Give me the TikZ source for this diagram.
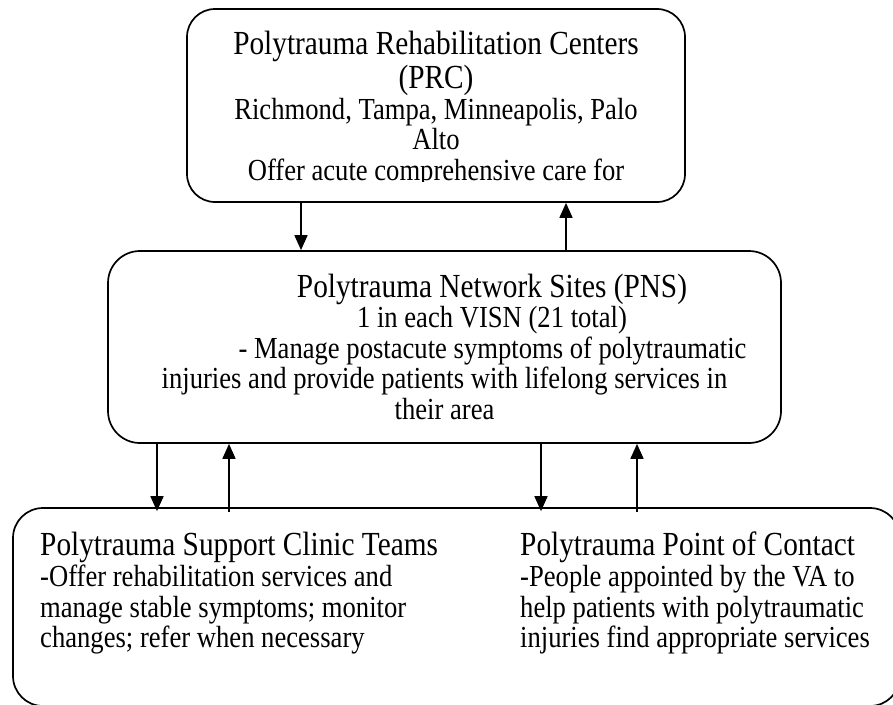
\documentclass[tikz,border=0pt]{standalone}
\usepackage{fontspec}
\setmainfont[FakeStretch=0.87]{Liberation Serif}
\usetikzlibrary{arrows.meta}
\newcommand\ttlf{\fontsize{33.7}{38}\selectfont}
\newcommand\bdf{\fontsize{30.6}{34}\selectfont}
\tikzset{
  box/.style={draw, line width=1.7pt, rounded corners=#1, inner sep=0pt},
  ttl/.style={anchor=base, inner sep=0pt, font=\ttlf},
  bdy/.style={anchor=base, inner sep=0pt, font=\bdf},
  ttlL/.style={anchor=base west, inner sep=0pt, font=\ttlf},
  bdyL/.style={anchor=base west, inner sep=0pt, font=\bdf},
  link/.style={line width=1.6pt, -{Triangle[width=13pt,length=15pt]}}
}
\begin{document}
\begin{tikzpicture}[x=1pt,y=-1pt]
\useasboundingbox (0,0) rectangle (893,704);
\fill[white] (0,0) rectangle (893,704);
% boxes
\node[box=28pt, minimum width=498pt, minimum height=193pt] (prc) at (436,105.5) {};
\node[box=32pt, minimum width=673pt, minimum height=192pt] (pns) at (444.5,347) {};
\node[box=30pt, minimum width=887pt, minimum height=198pt] (low) at (456.5,607) {};
% top box text (last line clipped)
\begin{scope}
\clip (187,9) rectangle (685,181.5);
\node[ttl] (p1) at (436,54.5) {Polytrauma Rehabilitation Centers};
\node[ttl] (p2) at (436,88) {(PRC)};
\node[bdy] (p3) at (436,119) {Richmond, Tampa, Minneapolis, Palo};
\node[bdy] (p4) at (436,149.5) {Alto};
\node[bdy] (p5) at (436,180) {Offer acute comprehensive care for};
\end{scope}
% middle box text
\node[ttl] (n1) at (492,297) {Polytrauma Network Sites (PNS)};
\node[bdy] (n2) at (492,327.5) {1 in each VISN (21 total)};
\node[bdy] (n3) at (492.5,358) {- Manage postacute symptoms of polytraumatic};
\node[bdy] (n4) at (444.5,388.5) {injuries and provide patients with lifelong services in};
\node[bdy] (n5) at (444.5,419) {their area};
% bottom box text
\node[ttlL] (s1) at (40,555) {Polytrauma Support Clinic Teams};
\node[bdyL] (s2) at (40,586) {-Offer rehabilitation services and};
\node[bdyL] (s3) at (40,617) {manage stable symptoms; monitor};
\node[bdyL] (s4) at (40,647) {changes; refer when necessary};
\node[ttlL] (c1) at (520,555) {Polytrauma Point of Contact};
\node[bdyL] (c2) at (520,586) {-People appointed by the VA to};
\node[bdyL] (c3) at (520,617) {help patients with polytraumatic};
\node[bdyL] (c4) at (520,647) {injuries find appropriate services};
% connector columns
\coordinate (xa) at (301,0);
\coordinate (xb) at (566,0);
\coordinate (xc) at (157,0);
\coordinate (xd) at (229,0);
\coordinate (xe) at (541,0);
\coordinate (xf) at (637,0);
\draw[link] (prc.south -| xa) -- (pns.north -| xa);
\draw[link] (pns.north -| xb) -- (prc.south -| xb);
\draw[link] (pns.south -| xc) -- ([yshift=-4pt]low.north -| xc);
\draw[link] ([yshift=-5pt]low.north -| xd) -- (pns.south -| xd);
\draw[link] (pns.south -| xe) -- ([yshift=-4pt]low.north -| xe);
\draw[link] ([yshift=-5pt]low.north -| xf) -- (pns.south -| xf);
\end{tikzpicture}
\end{document}
